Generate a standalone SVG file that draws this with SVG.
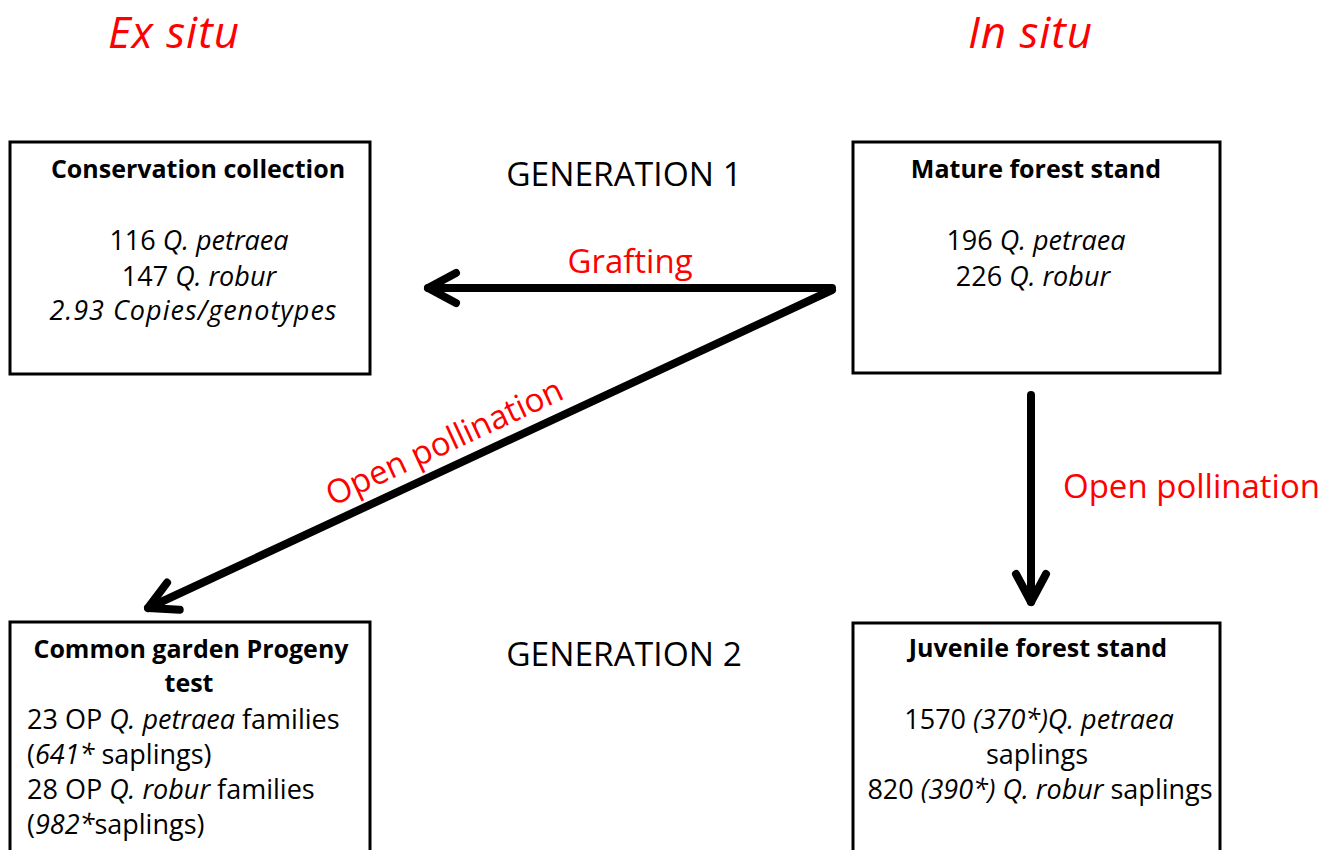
<svg xmlns="http://www.w3.org/2000/svg" width="1342" height="850" viewBox="0 0 1342 850">
<style>
text{font-family:"Open Sans","Liberation Sans",sans-serif;fill:#000}
.box{fill:#fff;stroke:#000;stroke-width:3}
.t{font-weight:bold;font-size:25px;text-anchor:middle}
.b{font-size:27px}
.c{text-anchor:middle}
.i{font-style:italic}
.red{fill:#ff0000}
.h{font-size:44px;font-style:italic;fill:#ff0000}
.g{font-size:33.5px;text-anchor:middle}
.lab{font-size:33px;fill:#ff0000}
.arr{fill:none;stroke:#000;stroke-width:8;stroke-linecap:round;stroke-linejoin:round}
</style>
<defs>
<marker id="chev" markerUnits="userSpaceOnUse" markerWidth="60" markerHeight="60" viewBox="-40 -30 60 60" refX="0" refY="0" orient="auto" overflow="visible">
<path d="M -28 -15 L 0 0 L -28 15" fill="none" stroke="#000" stroke-width="8" stroke-linecap="round" stroke-linejoin="round"/>
</marker>
</defs>
<rect width="1342" height="850" fill="#fff"/>
<g id="headers">
<text class="h" x="108" y="48" textLength="131" lengthAdjust="spacing">Ex situ</text>
<text class="h" x="968" y="48" textLength="124" lengthAdjust="spacing">In situ</text>
<text class="g" x="624" y="186">GENERATION 1</text>
<text class="g" x="624" y="666">GENERATION 2</text>
</g>
<g id="connectors">
<path class="arr" d="M 832 288 L 428 288" marker-end="url(#chev)"/>
<path class="arr" d="M 832 290 L 148 608" marker-end="url(#chev)"/>
<path class="arr" d="M 1031 395 L 1031 602" marker-end="url(#chev)"/>
<text class="lab" x="630" y="273" text-anchor="middle">Grafting</text>
<text class="lab" x="1063" y="498">Open pollination</text>
<text class="lab" transform="translate(455,465) rotate(-24.9)" x="0" y="-14" text-anchor="middle">Open pollination</text>
</g>
<g id="conservation">
<rect class="box" x="10" y="142" width="360" height="232"/>
<text class="t" x="198" y="178">Conservation collection</text>
<text class="b c" x="199" y="250">116 <tspan class="i">Q. petraea</tspan></text>
<text class="b c" x="199" y="286">147 <tspan class="i">Q. robur</tspan></text>
<text class="b c i" x="193" y="320" textLength="287" lengthAdjust="spacing">2.93 Copies/genotypes</text>
</g>
<g id="mature">
<rect class="box" x="853" y="142" width="367" height="231"/>
<text class="t" x="1036" y="178">Mature forest stand</text>
<text class="b c" x="1036" y="250">196 <tspan class="i">Q. petraea</tspan></text>
<text class="b c" x="1033" y="286">226 <tspan class="i">Q. robur</tspan></text>
</g>
<g id="garden">
<rect class="box" x="10" y="622" width="360" height="240"/>
<text class="t" x="191" y="658">Common garden Progeny</text>
<text class="t" x="189" y="692">test</text>
<text class="b" x="27" y="729">23 OP <tspan class="i">Q. petraea</tspan> families</text>
<text class="b" x="27" y="764">(<tspan class="i">641*</tspan> saplings)</text>
<text class="b" x="27" y="799">28 OP <tspan class="i">Q. robur</tspan> families</text>
<text class="b" x="27" y="834">(<tspan class="i">982*</tspan>saplings)</text>
</g>
<g id="juvenile">
<rect class="box" x="853" y="623" width="367" height="240"/>
<text class="t" x="1038" y="657">Juvenile forest stand</text>
<text class="b c" x="1039" y="729">1570 <tspan class="i">(370*)Q. petraea</tspan></text>
<text class="b c" x="1037" y="764">saplings</text>
<text class="b c" x="1040" y="799">820 <tspan class="i">(390*) Q. robur</tspan> saplings</text>
</g>
</svg>
